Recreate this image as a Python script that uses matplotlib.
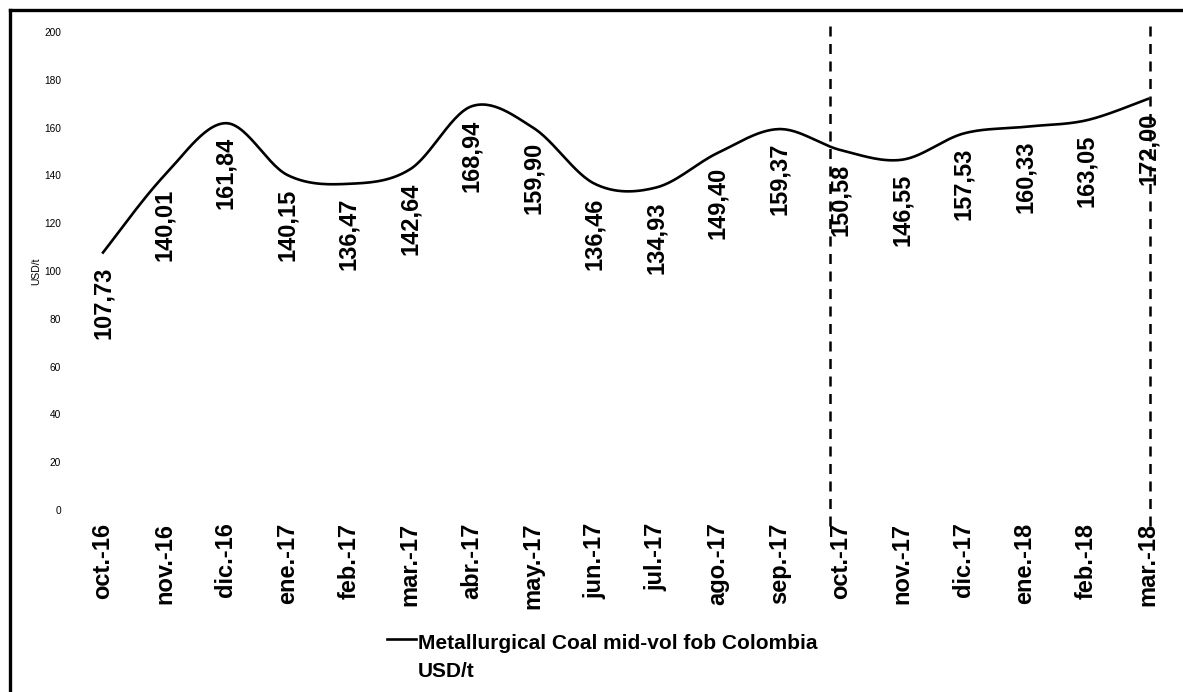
import numpy as np
import matplotlib
matplotlib.use("Agg")
import matplotlib.pyplot as plt
from matplotlib.lines import Line2D

plt.rcParams['font.family'] = ['Liberation Sans', 'DejaVu Sans']

# ------ datos ------
meses = ['oct.-16', 'nov.-16', 'dic.-16', 'ene.-17', 'feb.-17', 'mar.-17',
         'abr.-17', 'may.-17', 'jun.-17', 'jul.-17', 'ago.-17', 'sep.-17',
         'oct.-17', 'nov.-17', 'dic.-17', 'ene.-18', 'feb.-18', 'mar.-18']
precios = [107.73, 140.01, 161.84, 140.15, 136.47, 142.64,
           168.94, 159.90, 136.46, 134.93, 149.40, 159.37,
           150.58, 146.55, 157.53, 160.33, 163.05, 172.00]
etiquetas = ['107,73', '140,01', '161,84', '140,15', '136,47', '142,64',
             '168,94', '159,90', '136,46', '134,93', '149,40', '159,37',
             '150,58', '146,55', '157,53', '160,33', '163,05', '172,00']
y_ticks = [0, 20, 40, 60, 80, 100, 120, 140, 160, 180, 200]
serie = 'Metallurgical Coal mid-vol fob Colombia\nUSD/t'
# lineas punteadas (posicion en el eje de categorias)
cortes = [11.83, 17.03]


def suavizar(x, y, n=30):
  # curva suavizada tipo Excel (Catmull-Rom / Bezier)
  x = np.asarray(x, float)
  y = np.asarray(y, float)
  px = np.concatenate([[x[0]], x, [x[-1]]])
  py = np.concatenate([[y[0]], y, [y[-1]]])
  xs, ys = [], []
  t = np.linspace(0, 1, n)
  for i in range(1, len(px) - 2):
    b0x, b0y = px[i], py[i]
    b3x, b3y = px[i + 1], py[i + 1]
    b1x = b0x + (px[i + 1] - px[i - 1]) / 6
    b1y = b0y + (py[i + 1] - py[i - 1]) / 6
    b2x = b3x - (px[i + 2] - px[i]) / 6
    b2y = b3y - (py[i + 2] - py[i]) / 6
    c = [(1 - t) ** 3, 3 * (1 - t) ** 2 * t, 3 * (1 - t) * t ** 2, t ** 3]
    xs.append(c[0] * b0x + c[1] * b1x + c[2] * b2x + c[3] * b3x)
    ys.append(c[0] * b0y + c[1] * b1y + c[2] * b2y + c[3] * b3y)
  return np.concatenate(xs), np.concatenate(ys)


fig = plt.figure(figsize=(11.83, 6.92), dpi=100)
ax = fig.add_axes([0.0611, 0.263, 0.9353, 0.6908])

pos = np.arange(len(meses))
sx, sy = suavizar(pos, precios)
ax.plot(sx, sy, color='black', linewidth=1.9, label=serie)

# etiquetas de datos debajo de cada punto
for i, v in enumerate(precios):
  ax.annotate(etiquetas[i], (pos[i], v), xytext=(0, -10),
              textcoords='offset points', rotation=90, ha='center',
              va='top', fontsize=17, fontweight='bold')

# lineas verticales punteadas
for c in cortes:
  ax.plot([c, c], [-6.5, 205], color='black', linewidth=1.8,
          linestyle=(0, (4, 3)), clip_on=False)

ax.set_xlim(-0.5, len(meses) - 0.5)
ax.set_ylim(0, 200)
ax.set_xticks(pos)
ax.set_xticklabels(meses, rotation=90, fontsize=17, fontweight='bold')
ax.set_yticks(y_ticks)
ax.set_yticklabels([str(v) for v in y_ticks], fontsize=7.3)
ax.tick_params(axis='x', length=0, pad=9)
ax.tick_params(axis='y', length=0, pad=8)
ax.set_ylabel('USD/t', fontsize=7.5, labelpad=2)
for s in ax.spines.values():
  s.set_visible(False)

leg = ax.legend(loc='upper left', bbox_to_anchor=(387 / 1183, 1 - 634 / 692),
                bbox_transform=fig.transFigure, frameon=False,
                prop={'size': 15, 'weight': 'bold'}, handlelength=1.4,
                handletextpad=0.1, borderpad=0, borderaxespad=0)
leg.get_texts()[0].set_linespacing(1.6)
# subir la muestra de linea a la altura del primer renglon
h = leg.legend_handles[0]
h.set_ydata(np.asarray(h.get_ydata()) + 13.7)

# marco de la figura (solo arriba e izquierda)
fig.add_artist(Line2D([10 / 1183, 1], [1 - 10 / 692, 1 - 10 / 692],
                      transform=fig.transFigure, color='black', linewidth=2.4))
fig.add_artist(Line2D([10 / 1183, 10 / 1183], [0, 1 - 10 / 692],
                      transform=fig.transFigure, color='black', linewidth=2.4))

fig.savefig('out.png', dpi=100)
